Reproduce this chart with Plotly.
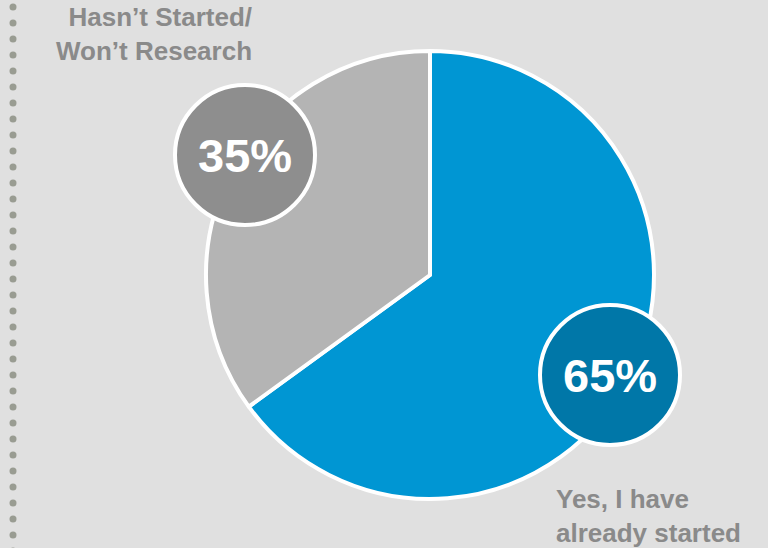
import numpy as np
import plotly.graph_objects as go

labels = ["Yes, I have already started", "Hasn\u2019t Started/ Won\u2019t Research"]
values = [65, 35]
slice_colors = ["#0096d3", "#b4b4b4"]
badge_colors = ["#0077a8", "#8e8e8e"]

W, H = 768, 548
cx, cy, R = 430, 275, 224

def px(x):
    return x / W

def py(y):
    return 1 - y / H

fig = go.Figure()
fig.add_trace(go.Pie(
    labels=labels, values=values, sort=False, direction="clockwise", rotation=0,
    marker=dict(colors=slice_colors, line=dict(color="white", width=4)),
    textinfo="none", hoverinfo="label+percent", showlegend=False,
    domain=dict(x=[px(cx - R), px(cx + R)], y=[py(cy + R), py(cy - R)]),
))

shapes = []
# dotted decorative rule on the left
for yy in np.arange(7, H + 8, 16):
    shapes.append(dict(type="circle", xref="paper", yref="paper",
                       x0=px(13 - 3.5), x1=px(13 + 3.5), y0=py(yy + 3.5), y1=py(yy - 3.5),
                       fillcolor="#999c92", line=dict(width=0), layer="below"))

# badge positions (pixels)
badges = [(610, 375), (245, 155)]
br = 70
annotations = []
for (bx, by), col, v in zip(badges, badge_colors, values):
    shapes.append(dict(type="circle", xref="paper", yref="paper",
                       x0=px(bx - br), x1=px(bx + br), y0=py(by + br), y1=py(by - br),
                       fillcolor=col, line=dict(color="white", width=4)))
    annotations.append(dict(x=px(bx), y=py(by), xref="paper", yref="paper",
                            text=f"<b>{v}%</b>", showarrow=False,
                            font=dict(family="Liberation Sans, Arial", size=47, color="white"),
                            xanchor="center", yanchor="middle"))

annotations.append(dict(x=px(254), y=py(0), xref="paper", yref="paper",
                        text="<b>Hasn\u2019t Started/<br>Won\u2019t Research</b>", showarrow=False,
                        align="right", xanchor="right", yanchor="top",
                        font=dict(family="Liberation Sans, Arial", size=26, color="#8a8a8a")))
annotations.append(dict(x=px(554), y=py(482), xref="paper", yref="paper",
                        text="<b>Yes, I have<br>already started</b>", showarrow=False,
                        align="left", xanchor="left", yanchor="top",
                        font=dict(family="Liberation Sans, Arial", size=26, color="#8a8a8a")))

fig.update_layout(
    width=W, height=H, margin=dict(l=0, r=0, t=0, b=0),
    paper_bgcolor="#e0e0e0", plot_bgcolor="#e0e0e0",
    shapes=shapes, annotations=annotations,
)
fig.write_html("out.html")
